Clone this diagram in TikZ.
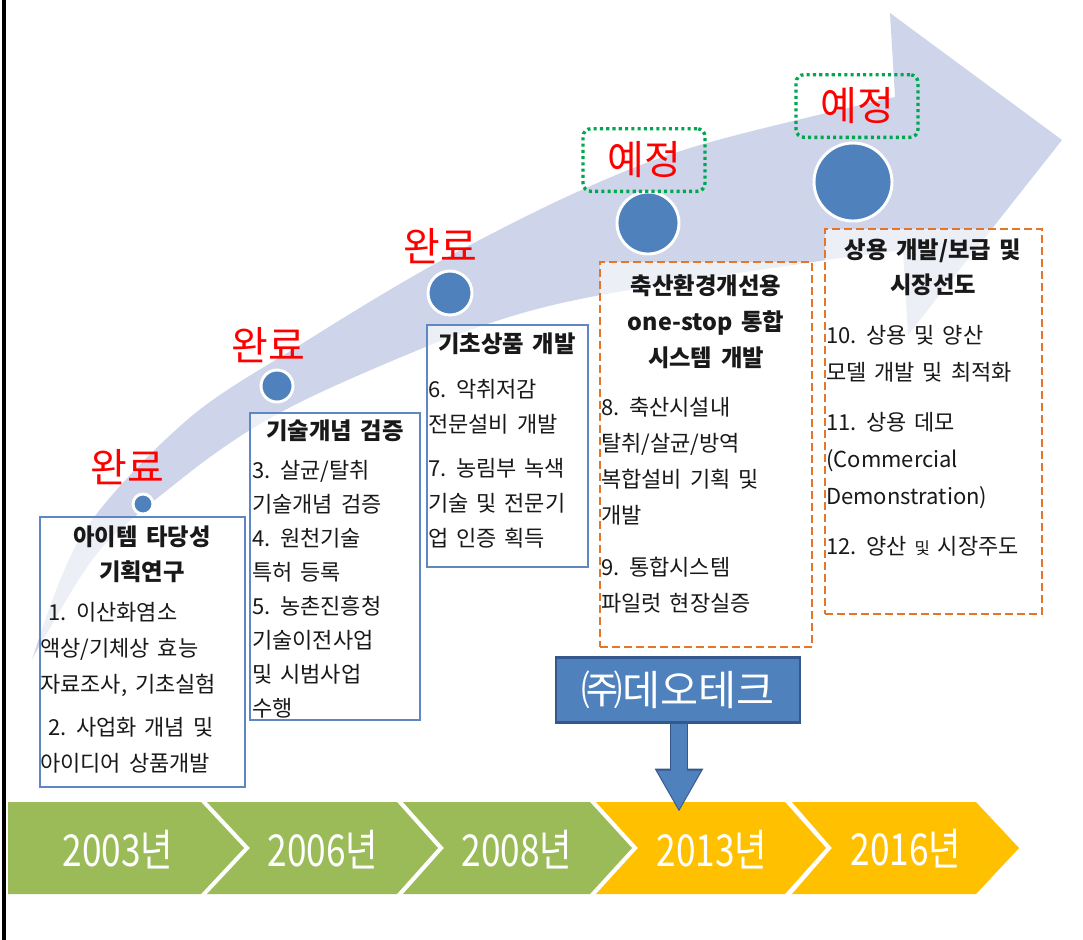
\documentclass[tikz,border=0pt]{standalone}
\usepackage{fontspec}
\setmainfont{Noto Sans CJK KR}[WordSpace=1.6]
\usetikzlibrary{fit,arrows.meta}
\definecolor{lav}{RGB}{206,212,234}
\definecolor{cblue}{RGB}{79,129,189}
\definecolor{bxblue}{RGB}{95,135,195}
\definecolor{dkblue}{RGB}{52,88,140}
\definecolor{orng}{RGB}{228,118,40}
\definecolor{grn}{RGB}{0,166,80}
\definecolor{chgreen}{RGB}{155,187,89}
\definecolor{chyellow}{RGB}{255,192,0}
\begin{document}
\begin{tikzpicture}[x=0.75pt,y=-0.75pt,
 tbox/.style={draw=bxblue, line width=1.1pt, fill=white, fill opacity=0.65, inner sep=0},
 obox/.style={draw=orng, line width=2.2pt, dash pattern=on 6pt off 3pt, fill=white, fill opacity=0.65, inner sep=0},
 ttl/.style={font=\fontsize{17.5}{26}\selectfont\bfseries, align=center, inner sep=0, anchor=north, text=black!90},
 body/.style={font=\fontsize{16.5}{27}\selectfont, align=left, inner sep=0, anchor=north west, text=black!90},
 mile/.style={circle, fill=cblue, draw=white, line width=2.2pt, inner sep=0},
 done/.style={text=red, font=\fontsize{30}{30}\selectfont, inner sep=0},
 plan/.style={draw=grn, line width=2.5pt, dash pattern=on 2.3pt off 2.4pt, rounded corners=6pt, text=red, font=\fontsize{30}{30}\selectfont, inner sep=0, minimum width=91.5pt, minimum height=47pt},
 yr/.style={text=white, font=\fontsize{33}{33}\selectfont, inner sep=0},
]
\useasboundingbox (0,0) rectangle (1083,940);
\fill[white] (0,0) rectangle (1083,940);
\draw[line width=2.6pt] (4,0) -- (4,940);

% big curved arrow
\fill[lav] plot[smooth, tension=0.55] coordinates {(32,660) (83,533) (187,420) (300,345) (433,265) (577,192) (700,145) (895,97)}
  -- (890,13) -- (1062,140) -- (908,335) -- (903,250)
  -- plot[smooth, tension=0.55] coordinates {(903,250) (813,262) (590,297) (470,330) (330,388) (250,430) (180,480) (100,550) (43,640) (32,660)} -- cycle;

% boxes
\node[tbox, fit={(40,517) (245,787)}] (b1) {};
\node[tbox, fit={(250,413) (420,720)}] (b2) {};
\node[tbox, fit={(427,325) (588,567)}] (b3) {};
\node[obox, fit={(600,262) (812,647)}] (b4) {};
\node[obox, fit={(825,229) (1042,614)}] (b5) {};

% milestones
\node[mile, minimum size=15pt] (c1) at (143,504) {};
\node[mile, minimum size=24pt] (c2) at (277,386) {};
\node[mile, minimum size=33pt] (c3) at (450,293) {};
\node[mile, minimum size=46.5pt] (c4) at (648,223) {};
\node[mile, minimum size=58.5pt] (c5) at (853,182) {};

\node[done] (l1) at (127,467) {완료};
\node[done] (l2) at (268,345) {완료};
\node[done] (l3) at (440,246) {완료};
\node[plan] (p1) at (644,160) {예정};
\node[plan] (p2) at (857,106) {예정};

% box texts
\node[ttl] (h1) at (142,526) {아이템 타당성\\기획연구};
\node[body] (t1) at (40,602) {\hspace*{6pt}1. 이산화염소\\액상/기체상 효능\\자료조사, 기초실험\\[5pt]\hspace*{6pt}2. 사업화 개념 및\\아이디어 상품개발};

\node[ttl] (h2) at (335,420) {기술개념 검증};
\node[body, font=\fontsize{16.5}{25.5}\selectfont] (t2) at (252,460) {3. 살균/탈취\\기술개념 검증\\4. 원천기술\\특허 등록\\5. 농촌진흥청\\기술이전사업\\및 시범사업\\수행};

\node[ttl] (h3) at (507,333) {기초상품 개발};
\node[body, font=\fontsize{16.5}{26.5}\selectfont] (t3) at (428,379) {6. 악취저감\\전문설비 개발\\[6pt]7. 농림부 녹색\\기술 및 전문기\\업 인증 획득};

\node[ttl, font=\fontsize{17.5}{27}\selectfont\bfseries] (h4) at (706,274) {축산환경개선용\\one-stop 통합\\시스템 개발};
\node[body] (t4) at (601,397) {8. 축산시설내\\탈취/살균/방역\\복합설비 기획 및\\개발\\[12pt]9. 통합시스템\\파일럿 현장실증};

\node[ttl] (h5) at (933,239) {상용 개발/보급 및\\시장선도};
\node[body, font=\fontsize{16.5}{28}\selectfont] (t5) at (826,325) {10. 상용 및 양산\\모델 개발 및 최적화\\[9pt]11. 상용 데모\\(Commercial\\Demonstration)\\[9pt]12. 양산 {\fontsize{12.5}{12}\selectfont 및} 시장주도};

% timeline chevrons
\fill[chgreen] (8,802) -- (201,802) -- (244,848) -- (201,894) -- (8,894) -- cycle;
\fill[chgreen] (207,802) -- (397,802) -- (438,848) -- (397,894) -- (207,894) -- (250,848) -- cycle;
\fill[chgreen] (403,802) -- (590,802) -- (632,848) -- (590,894) -- (403,894) -- (444,848) -- cycle;
\fill[chyellow] (596,802) -- (785,802) -- (826,848) -- (785,894) -- (596,894) -- (638,848) -- cycle;
\fill[chyellow] (792,802) -- (976,802) -- (1019,848) -- (976,894) -- (792,894) -- (832,848) -- cycle;
\node[yr] (y1) at (118,850) {\scalebox{0.8}[1]{2003년}};
\node[yr] (y2) at (323,850) {\scalebox{0.8}[1]{2006년}};
\node[yr] (y3) at (517,850) {\scalebox{0.8}[1]{2008년}};
\node[yr] (y4) at (712,850) {\scalebox{0.8}[1]{2013년}};
\node[yr] (y5) at (906,849) {\scalebox{0.8}[1]{2016년}};

% company box and arrow
\node[fill=cblue, draw=dkblue, line width=2pt, minimum width=183pt, minimum height=48.5pt, text=white, font=\fontsize{31}{31}\selectfont, inner sep=0] (deo) at (678,690) {㈜데오테크};
\coordinate (tip) at (679,810);
\draw[dkblue, line width=13.5pt, -{Triangle[width=34pt,length=32.5pt]}] (deo.south -| tip) -- ([yshift=-1.5pt]tip);
\draw[cblue, line width=11.5pt, -{Triangle[width=30.5pt,length=29.5pt]}] (deo.south -| tip) -- (tip);
\end{tikzpicture}
\end{document}
